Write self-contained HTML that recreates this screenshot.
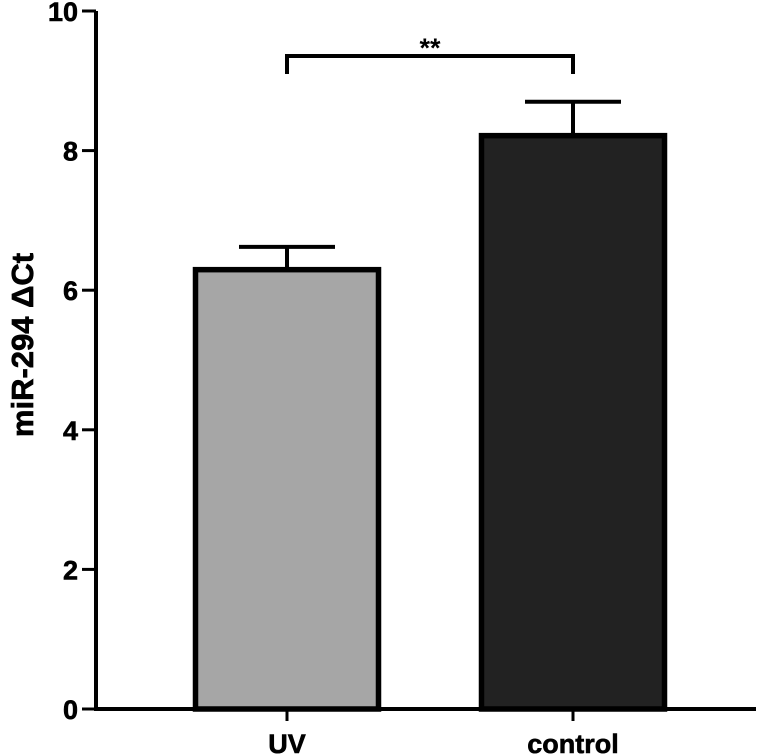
<!DOCTYPE html>
<html><head><meta charset="utf-8"><style>body{margin:0;background:#fff}svg{display:block}text{font-family:"Liberation Sans",sans-serif;font-weight:bold}</style></head>
<body>
<svg id="c" width="768" height="754"></svg>
<script>
const categories=["UV","control"];
const means=[6.33,8.25];
const errors=[0.29,0.45];
const fills=["#a6a6a6","#222222"];
const yTicks=[0,2,4,6,8,10];
const svg=document.getElementById('c');
const NS='http://www.w3.org/2000/svg';
const y0=709,y1=11,x0=96,x1=756;
const y=v=>y0-(v/10)*(y0-y1);
const xc=i=>[287,573][i];
const bw=188;
function el(t,a,p){const e=document.createElementNS(NS,t);for(const k in a)e.setAttribute(k,a[k]);(p||svg).appendChild(e);return e;}
categories.forEach((c,i)=>{
  const top=y(means[i]);
  const b=el('rect',{x:xc(i)-bw/2+2.5,y:top+2.5,width:bw-5,height:y0-top-2.5,fill:fills[i],stroke:'#000','stroke-width':5.5});
  
  
  const et=y(means[i]+errors[i]);
  const e=el('path',{d:`M${xc(i)} ${top} V${et} M${xc(i)-48} ${et} H${xc(i)+48}`,stroke:'#000','stroke-width':4,fill:'none'});
  
  
  const tk=el('line',{x1:xc(i),x2:xc(i),y1:y0,y2:y0+12,stroke:'#000','stroke-width':3});
  
  
  const t=el('text',{x:xc(i),y:753,'text-anchor':'middle','font-size':27,stroke:'#000','stroke-width':0.6});
  t.textContent=c;
  
  
});
yTicks.forEach(v=>{
  const tk=el('line',{x1:x0-14,x2:x0,y1:y(v),y2:y(v),stroke:'#000','stroke-width':3});
  
  
  const t=el('text',{x:x0-18,y:y(v)+10,'text-anchor':'end','font-size':27,stroke:'#000','stroke-width':0.6});
  t.textContent=v;
  
  
});
const ax=el('path',{d:`M${x0} ${y1} V${y0} H${x1}`,stroke:'#000','stroke-width':4,fill:'none'});


const br=el('path',{d:`M${xc(0)} 74 V56 H${xc(1)} V74`,stroke:'#000','stroke-width':4,fill:'none'});


const st=el('text',{x:(xc(0)+xc(1))/2,y:57,'text-anchor':'middle','font-size':27});
st.textContent='**';


const yt=el('text',{x:0,y:0,'text-anchor':'middle','font-size':31,stroke:'#000','stroke-width':0.7,transform:'translate(33,345) rotate(-90)'});
yt.textContent='miR-294 ΔCt';


</script>
</body></html>
